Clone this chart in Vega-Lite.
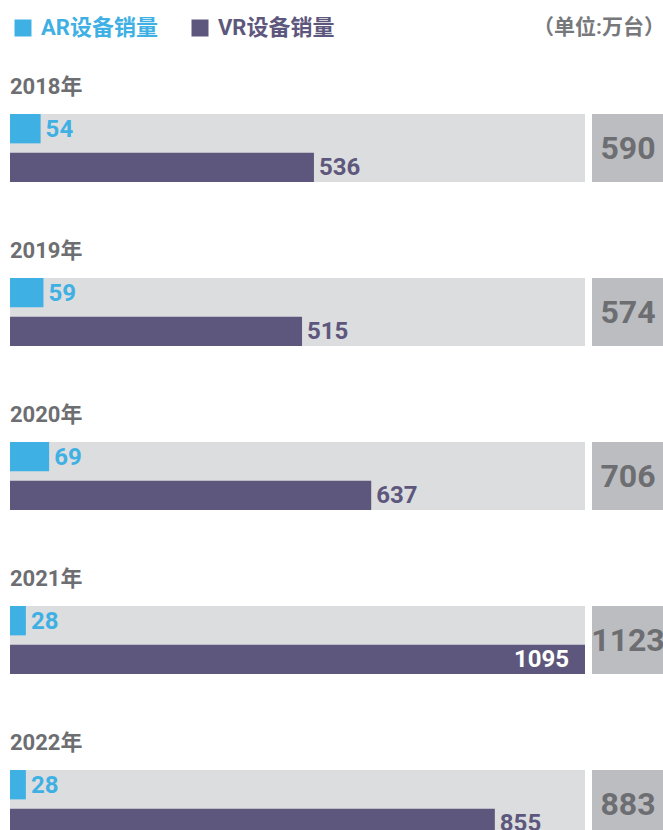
{
  "$schema": "https://vega.github.io/schema/vega-lite/v6.json",
  "padding": {"left": 10, "right": 0, "top": 17, "bottom": 0},
  "background": "white",
  "datasets": {
    "sales": [
      {"year": "2018", "type": "AR设备销量", "value": 54},
      {"year": "2018", "type": "VR设备销量", "value": 536},
      {"year": "2019", "type": "AR设备销量", "value": 59},
      {"year": "2019", "type": "VR设备销量", "value": 515},
      {"year": "2020", "type": "AR设备销量", "value": 69},
      {"year": "2020", "type": "VR设备销量", "value": 637},
      {"year": "2021", "type": "AR设备销量", "value": 28},
      {"year": "2021", "type": "VR设备销量", "value": 1095},
      {"year": "2022", "type": "AR设备销量", "value": 28},
      {"year": "2022", "type": "VR设备销量", "value": 855}
    ]
  },
  "spacing": 6,
  "hconcat": [
    {
      "data": {"name": "sales"},
      "columns": 1,
      "spacing": {"row": 58},
      "facet": {
        "field": "year", "type": "nominal",
        "header": {"title": null, "labelExpr": "datum.value + '年'", "labelAnchor": "start", "labelFontSize": 22, "labelFontWeight": "bold", "labelColor": "#6d6e71", "labelFont": "Roboto, Noto Sans CJK SC", "labelPadding": -2, "labelBaseline": "alphabetic"}
      },
      "spec": {
        "width": 575,
        "height": 68,
        "view": {"fill": "#dcdddf", "stroke": null},
        "encoding": {
          "y": {"field": "type", "type": "nominal", "axis": null, "scale": {"paddingInner": 0.24, "paddingOuter": 0}},
          "x": {"field": "value", "type": "quantitative", "axis": null, "scale": {"domain": [0, 1014], "nice": false, "clamp": true}}
        },
        "layer": [
          {
            "mark": {"type": "bar"},
            "encoding": {
              "color": {"field": "type", "type": "nominal", "scale": {"domain": ["AR设备销量", "VR设备销量"], "range": ["#3fb0e4", "#5e577d"]},
                "legend": {"title": "（单位:万台）", "titleOrient": "right", "titlePadding": 199, "titleFontSize": 21, "titleFontWeight": "bold", "titleColor": "#77787b", "titleFont": "Roboto, Noto Sans CJK SC", "titleLimit": 300,
                  "orient": "none", "legendX": 2, "legendY": -97, "padding": 0, "direction": "horizontal", "symbolType": "square", "symbolSize": 289, "symbolOpacity": 1, "symbolStrokeWidth": 0, "labelFontSize": 22, "labelFontWeight": "bold", "labelFont": "Roboto, Noto Sans CJK SC", "labelOffset": 7, "columnPadding": 31, "labelLimit": 300,
                  "encode": {"labels": {"update": {"fill": {"signal": "datum.value === 'AR设备销量' ? '#3fb0e4' : '#5e577d'"}}}}}}
            }
          },
          {
            "transform": [{"filter": "datum.value <= 1014"}],
            "mark": {"type": "text", "align": "left", "baseline": "middle", "dx": 5, "dy": 1, "fontSize": 24, "fontWeight": "bold", "font": "Roboto, Noto Sans CJK SC"},
            "encoding": {
              "text": {"field": "value", "type": "quantitative"},
              "color": {"field": "type", "type": "nominal"}
            }
          },
          {
            "transform": [{"filter": "datum.value > 1014"}],
            "mark": {"type": "text", "align": "right", "baseline": "middle", "dx": -16, "dy": 1, "fontSize": 24, "fontWeight": "bold", "font": "Roboto, Noto Sans CJK SC", "color": "white"},
            "encoding": {
              "text": {"field": "value", "type": "quantitative"}
            }
          }
        ]
      }
    },
    {
      "data": {"name": "sales"},
      "columns": 1,
      "spacing": {"row": 58},
      "transform": [{"aggregate": [{"op": "sum", "field": "value", "as": "total"}], "groupby": ["year"]}],
      "facet": {
        "field": "year", "type": "nominal",
        "header": {"title": null, "labelExpr": "datum.value + '年'", "labelAnchor": "start", "labelFontSize": 22, "labelFontWeight": "bold", "labelColor": "rgba(0,0,0,0)", "labelFont": "Roboto, Noto Sans CJK SC", "labelPadding": -2, "labelBaseline": "alphabetic"}
      },
      "spec": {
        "width": 72,
        "height": 68,
        "view": {"fill": "#bcbdc1", "stroke": null},
        "mark": {"type": "text", "align": "center", "baseline": "middle", "dy": 1, "fontSize": 32, "fontWeight": "bold", "font": "Roboto, Noto Sans CJK SC", "color": "#6d6e71"},
        "encoding": {
          "text": {"field": "total", "type": "quantitative"}
        }
      }
    }
  ]
}
